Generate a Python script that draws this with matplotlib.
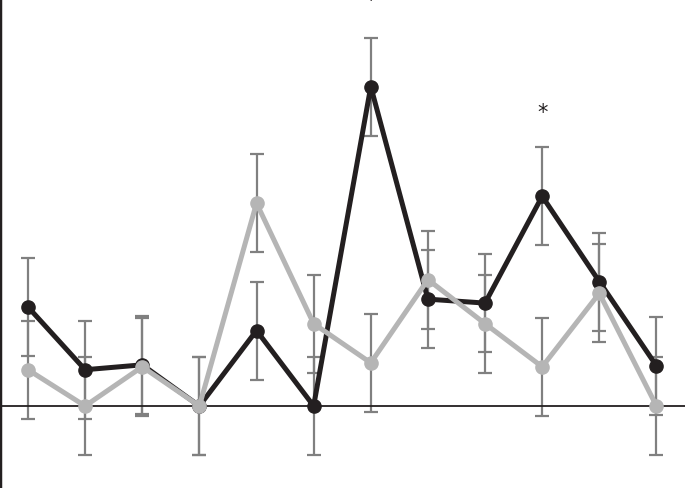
import matplotlib
matplotlib.use('Agg')
import matplotlib.pyplot as plt

# time points (12 sessions)
points = list(range(1, 13))

# means
black_vals = [1.01, 0.37, 0.42, 0.0, 0.77, 0.0, 3.26, 1.09, 1.05, 2.14, 1.27, 0.41]
gray_vals = [0.37, 0.0, 0.40, 0.0, 2.07, 0.84, 0.44, 1.29, 0.84, 0.40, 1.15, 0.0]

# standard errors (same size everywhere)
black_err = [0.5] * 12
gray_err = [0.5] * 12

# significance marks: (point, label)
stars = [(7, '*'), (10, '*')]

fig = plt.figure(figsize=(6.85, 4.88), dpi=100)
ax = fig.add_axes([0, 0, 1, 1])

err_style = dict(fmt='none', ecolor='#808080', elinewidth=1.6, capsize=5, capthick=1.6, zorder=1)
ax.errorbar(points, black_vals, yerr=black_err, **err_style)
ax.errorbar(points, gray_vals, yerr=gray_err, **err_style)

ax.axhline(0, color='#231f20', linewidth=1.3, zorder=2)

ax.plot(points, black_vals, color='#231f20', linewidth=3.6, marker='o', markersize=9.5, zorder=3)
ax.plot(points, gray_vals, color='#b5b5b5', linewidth=3.6, marker='o', markersize=9.5, zorder=4)

# asterisks above the error bars (the first one runs off the top edge)
ax.text(stars[0][0], black_vals[6] + 0.87, stars[0][1], ha='center', va='center',
        fontsize=15, color='#231f20', clip_on=False)
ax.text(stars[1][0], black_vals[9] + 0.85, stars[1][1], ha='center', va='center',
        fontsize=15, color='#231f20')

ax.set_xlim(0.51, 12.5)
ax.set_ylim(-0.837, 4.143)

for side in ['top', 'right', 'bottom']:
    ax.spines[side].set_visible(False)
ax.spines['left'].set_color('#231f20')
ax.spines['left'].set_linewidth(2.5)
ax.set_xticks([])
ax.set_yticks([])

fig.savefig('out.png', dpi=100)
